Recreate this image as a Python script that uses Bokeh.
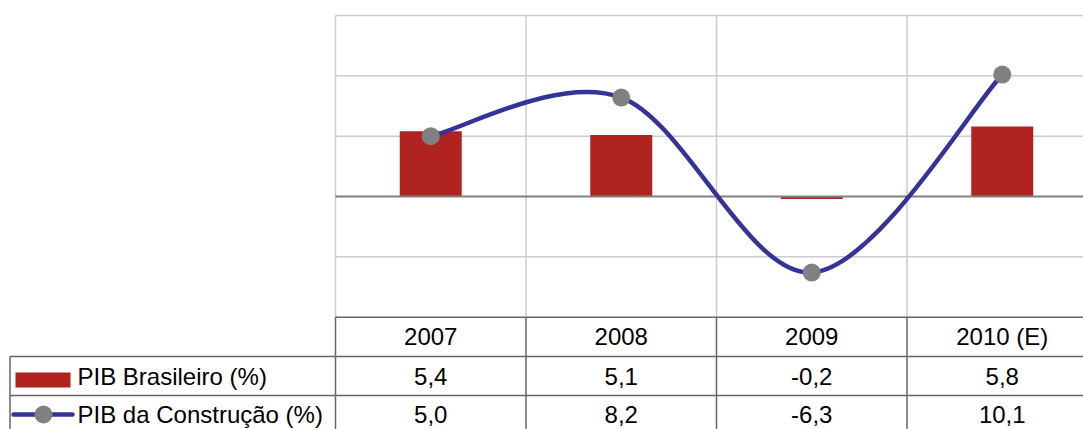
from bokeh.plotting import figure
from bokeh.models import ColumnDataSource, Range1d
from bokeh.core.properties import value
from bokeh.embed import file_html
from bokeh.resources import INLINE

# ---- data ----
categories = ["2007", "2008", "2009", "2010 (E)"]
pib_brasileiro = [5.4, 5.1, -0.2, 5.8]
pib_construcao = [5.0, 8.2, -6.3, 10.1]
y_ticks = [-10, -5, 0, 5, 10, 15]
series_names = ["PIB Brasileiro (%)", "PIB da Construção (%)"]

# ---- layout (page pixels) ----
W, H = 1083, 429
MARGIN = 0
PLOT_LEFT = 335.0
CAT_W = 190.5
ZERO_Y = 196.0
UNIT_Y = 12.07

def dx(page_x):
    return (page_x - PLOT_LEFT) / CAT_W

def dy(page_y):
    return (ZERO_Y - page_y) / UNIT_Y

p = figure(width=W, height=H, output_backend="svg", toolbar_location=None,
           x_range=Range1d(dx(MARGIN), dx(MARGIN + W)),
           y_range=Range1d(dy(MARGIN + H), dy(MARGIN)),
           min_border=0)
p.axis.visible = False
p.grid.visible = False
p.outline_line_color = None
p.background_fill_color = "white"
p.border_fill_color = "white"

n = len(categories)
xc = [i + 0.5 for i in range(n)]
x_end = dx(MARGIN + W)
ymin, ymax = min(y_ticks), max(y_ticks)

GRID = "#cccccc"
TABLE = "#666666"

# horizontal gridlines
hy = [t for t in y_ticks if t != 0 and t != ymin]
p.segment(x0=[0] * len(hy), x1=[x_end] * len(hy), y0=hy, y1=hy,
          line_color=GRID, line_width=1.5)
# vertical gridlines
vx = list(range(n + 1))
p.segment(x0=vx, x1=vx, y0=[ymin] * len(vx), y1=[ymax] * len(vx),
          line_color=GRID, line_width=1.5)

# bars
src = ColumnDataSource(dict(x=xc, top=pib_brasileiro))
p.vbar(x="x", top="top", bottom=0, width=62 / CAT_W, source=src,
       fill_color="#B0231F", line_color=None)

# zero line
p.segment(x0=[0], x1=[x_end], y0=[0], y1=[0], line_color="#808080", line_width=2)

# smooth line (Catmull-Rom bezier through the points)
pts = list(zip(xc, pib_construcao))
x0s, y0s, x1s, y1s, cx0, cy0, cx1, cy1 = [], [], [], [], [], [], [], []
for i in range(n - 1):
    pm = pts[i - 1] if i > 0 else pts[i]
    p0 = pts[i]
    p1 = pts[i + 1]
    p2 = pts[i + 2] if i + 2 < n else pts[i + 1]
    x0s.append(p0[0]); y0s.append(p0[1]); x1s.append(p1[0]); y1s.append(p1[1])
    cx0.append(p0[0] + (p1[0] - pm[0]) / 6); cy0.append(p0[1] + (p1[1] - pm[1]) / 6)
    cx1.append(p1[0] - (p2[0] - p0[0]) / 6); cy1.append(p1[1] - (p2[1] - p0[1]) / 6)
p.bezier(x0=x0s, y0=y0s, x1=x1s, y1=y1s, cx0=cx0, cy0=cy0, cx1=cx1, cy1=cy1,
         line_color="#333399", line_width=4.5)
p.scatter(xc, pib_construcao, size=18, fill_color="#808080", line_color=None)

# ---- data table ----
ROW1, ROW2, BOTTOM = 356.0, 395.0, MARGIN + H + 5
LEFT_T = 9.5
y_top = ymin
y_r1, y_r2, y_bot = dy(ROW1), dy(ROW2), dy(BOTTOM)
# horizontal table lines
p.segment(x0=[0, dx(LEFT_T), dx(LEFT_T)], x1=[x_end] * 3,
          y0=[y_top, y_r1, y_r2], y1=[y_top, y_r1, y_r2],
          line_color=TABLE, line_width=1.5)
# vertical table lines
p.segment(x0=vx, x1=vx, y0=[y_top] * len(vx), y1=[y_bot] * len(vx),
          line_color=TABLE, line_width=1.5)
p.segment(x0=[dx(LEFT_T)], x1=[dx(LEFT_T)], y0=[y_r1], y1=[y_bot],
          line_color=TABLE, line_width=1.5)

FONT = value("Liberation Sans")
FS = value("24px")
row_centers = [(dy(316) + y_r1) / 2, (y_r1 + y_r2) / 2, (y_r2 + dy(433)) / 2]

def fmt(v):
    return f"{v:.1f}".replace(".", ",")

p.text(x=xc, y=[row_centers[0]] * n, text=categories, text_font=FONT,
       text_font_size=FS, text_align="center", text_baseline="middle", text_color="black")
p.text(x=xc, y=[row_centers[1]] * n, text=[fmt(v) for v in pib_brasileiro], text_font=FONT,
       text_font_size=FS, text_align="center", text_baseline="middle", text_color="black")
p.text(x=xc, y=[row_centers[2]] * n, text=[fmt(v) for v in pib_construcao], text_font=FONT,
       text_font_size=FS, text_align="center", text_baseline="middle", text_color="black")

# legend keys
p.quad(left=[dx(15)], right=[dx(70)], top=[dy(372)], bottom=[dy(387)],
       fill_color="#B0231F", line_color=None)
p.segment(x0=[dx(13)], x1=[dx(72)], y0=[row_centers[2]], y1=[row_centers[2]],
          line_color="#333399", line_width=4.5, line_cap="round")
p.scatter([dx(43)], [row_centers[2]], size=18, fill_color="#808080", line_color=None)
p.text(x=[dx(77), dx(77)], y=[row_centers[1], row_centers[2]], text=series_names,
       text_font=FONT, text_font_size=FS, text_align="left", text_baseline="middle",
       text_color="black")

open("out.html", "w").write(file_html(p, INLINE))
